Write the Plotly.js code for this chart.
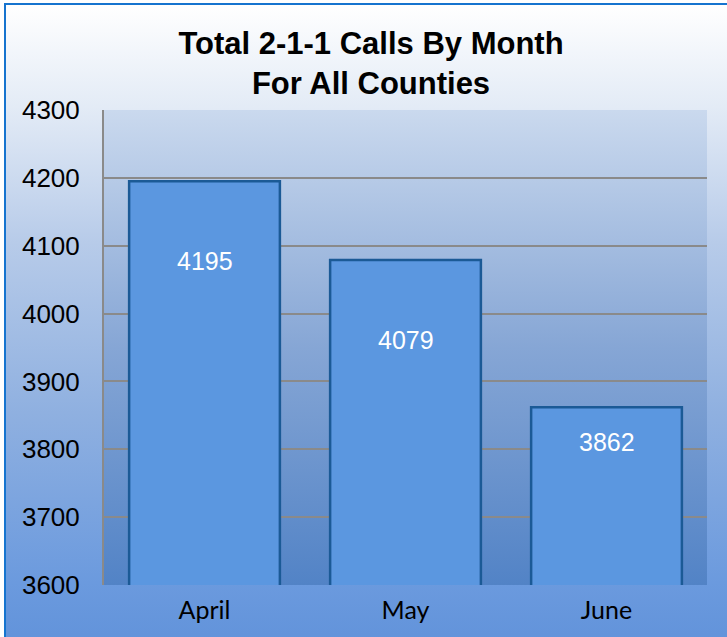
<!DOCTYPE html>
<html>
<head>
<meta charset="utf-8">
<script src="https://cdn.plot.ly/plotly-3.0.1.min.js"></script>
<style>
  html, body { margin: 0; padding: 0; width: 727px; height: 637px; overflow: hidden; background: #fff; }
  #frame { position: absolute; left: 4px; top: 3px; width: 760px; height: 680px;
           border: 2px solid #1674cf;
           background: linear-gradient(to bottom, #ffffff 0%, #e3ebf6 15%, #b7cbe9 35%, #8fb0e0 60%, #6b9ade 85%, #5b8ed8 100%); }
  #chart { position: absolute; left: 0; top: 0; width: 727px; height: 637px; }
</style>
</head>
<body>
<div id="frame"></div>
<div id="chart"></div>
<script>
const months = ["April", "May", "June"];
const calls = [4195, 4079, 3862];
const labelShift = [-68, -68, -23];
const yTicks = [3600, 3700, 3800, 3900, 4000, 4100, 4200, 4300];

const gradSvg = '<svg xmlns="http://www.w3.org/2000/svg" width="100" height="100" preserveAspectRatio="none">' +
  '<defs><linearGradient id="g" x1="0" y1="0" x2="0" y2="1">' +
  '<stop offset="0" stop-color="#cad9ee"/><stop offset="0.5" stop-color="#86a6d5"/><stop offset="1" stop-color="#5283c6"/>' +
  '</linearGradient></defs><rect width="100" height="100" fill="url(#g)"/></svg>';

const trace = {
  type: 'bar',
  x: months,
  y: calls,
  width: 0.75,
  marker: { color: '#5b97e0', line: { color: '#1b5a96', width: 2.5 } },
  hoverinfo: 'x+y'
};

const annotations = months.map((m, i) => ({
  x: m, y: calls[i], xref: 'x', yref: 'y',
  text: String(calls[i]), showarrow: false,
  yanchor: 'middle', yshift: labelShift[i] - 12,
  font: { family: 'Liberation Sans, Arial, sans-serif', size: 25, color: '#ffffff' }
}));

const layout = {
  width: 727, height: 637,
  paper_bgcolor: 'rgba(0,0,0,0)',
  plot_bgcolor: 'rgba(0,0,0,0)',
  margin: { l: 104, r: 20, t: 110, b: 52 },
  showlegend: false,
  bargap: 0.25,
  title: {
    text: '<b>Total 2-1-1 Calls By Month<br>For All Counties</b>',
    x: 371 / 727, xref: 'container', xanchor: 'center',
    y: 1 - 54 / 637, yref: 'container', yanchor: 'top',
    font: { family: 'Liberation Sans, Arial, sans-serif', size: 31, color: '#000000' }
  },
  images: [{
    source: 'data:image/svg+xml;charset=utf-8,' + encodeURIComponent(gradSvg),
    xref: 'paper', yref: 'paper', x: 0, y: 1, sizex: 1, sizey: 1,
    sizing: 'stretch', layer: 'below', xanchor: 'left', yanchor: 'top'
  }],
  xaxis: {
    type: 'category',
    showgrid: false, zeroline: false, showline: false,
    ticks: '', ticklabelstandoff: 8,
    tickfont: { family: 'Lato, Open Sans, sans-serif', size: 25, color: '#000000' }
  },
  yaxis: {
    range: [3600, 4300],
    tickvals: yTicks,
    showgrid: true, gridcolor: '#8a8a8a', gridwidth: 2,
    showline: true, linecolor: '#8a8a8a', linewidth: 2,
    zeroline: false,
    ticks: '', ticklabelstandoff: 17,
    tickfont: { family: 'Liberation Sans, Arial, sans-serif', size: 26, color: '#000000' }
  },
  annotations: annotations
};

Plotly.newPlot('chart', [trace], layout, { displayModeBar: false, staticPlot: true });
</script>
</body>
</html>
